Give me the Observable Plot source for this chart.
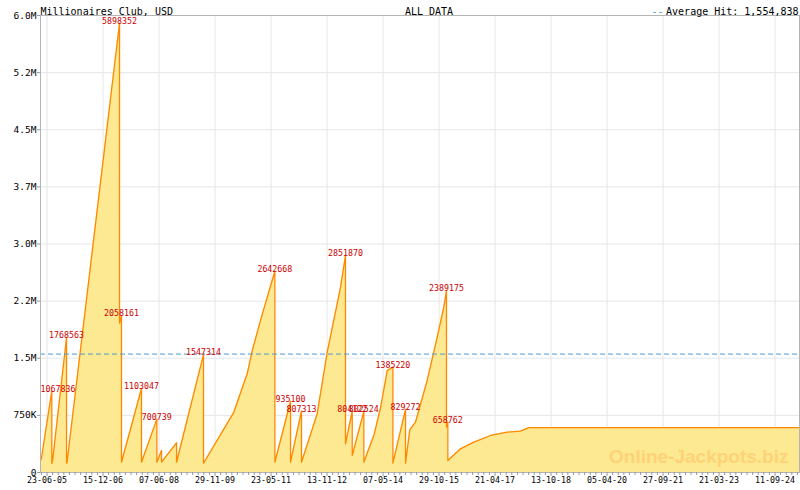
<!DOCTYPE html>
<html><head><meta charset="utf-8">
<script src="https://cdn.jsdelivr.net/npm/d3@7"></script>
<script src="https://cdn.jsdelivr.net/npm/@observablehq/plot@0.6"></script>
<style>body{margin:0;background:#fff;}</style>
</head><body><div id="chart"></div>
<script>
const title = "Millionaires Club, USD";
const subtitle = "ALL DATA";
const averageHit = 1554838;
const averageLabel = "Average Hit: 1,554,838";
const watermark = "Online-Jackpots.biz";

const xDomain = ["2005-04-21", "2025-05-05"];

const seriesDates = [
"2005-04-28","2005-08-08","2005-08-08","2005-08-15","2005-12-28","2005-12-28",
"2006-01-02","2007-05-23","2007-05-23","2007-06-11","2007-06-11",
"2007-12-21","2007-12-21","2008-05-17","2008-05-17","2008-07-01","2008-07-01",
"2008-11-23","2008-11-23","2009-08-10","2009-08-10",
"2010-05-29","2010-10-06","2010-11-23","2011-02-11","2011-06-29","2011-06-29",
"2011-11-27","2011-11-27","2012-03-12","2012-03-12",
"2012-08-10","2012-11-15","2013-03-23","2013-05-10","2013-05-10",
"2013-07-14","2013-07-14","2013-11-03","2013-11-03",
"2014-02-10","2014-04-13","2014-06-17","2014-07-15","2014-08-10","2014-08-10",
"2014-12-10","2014-12-10",
"2015-01-20","2015-03-16","2015-07-07","2015-10-12","2015-12-14","2016-01-09","2016-01-09",
"2016-01-22","2016-01-22",
"2016-05-23","2016-09-29","2017-03-09","2017-08-17","2017-12-23","2018-03-13","2025-05-05"
];
const seriesValues = [
171000,1067836,118000,150000,1768563,122000,
135000,5898352,1960000,2058161,135000,
1103047,135000,700739,135000,290000,135000,
390000,135000,1547314,122000,
790000,1300000,1600000,2000000,2642668,135000,
935100,135000,807313,135000,
770000,1580000,2430000,2851870,376000,
804122,223000,802524,135000,
500000,850000,1340000,1360000,1385220,122000,
829272,122000,
560000,660000,1210000,1780000,2170000,2389175,595000,
658762,157000,
311000,398000,486000,530000,543000,590000,590000
];

const hitDates = ["2005-08-08","2005-12-28","2007-05-23","2007-06-11","2007-12-21","2008-05-17",
"2009-08-10","2011-06-29","2011-11-27","2012-03-12","2013-05-10","2013-07-14","2013-11-03",
"2014-08-10","2014-12-10","2016-01-09","2016-01-22"];
const hitValues = [1067836,1768563,5898352,2058161,1103047,700739,
1547314,2642668,935100,807313,2851870,804122,802524,
1385220,829272,2389175,658762];

const xTickLabels = ["23-06-05","15-12-06","07-06-08","29-11-09","23-05-11","13-11-12","07-05-14",
"29-10-15","21-04-17","13-10-18","05-04-20","27-09-21","21-03-23","11-09-24"];
const yTickValues = [0,750000,1500000,2250000,3000000,3750000,4500000,5250000,6000000];
const yTickLabels = ["0","750K","1.5M","2.2M","3.0M","3.7M","4.5M","5.2M","6.0M"];

const parse = d3.utcParse("%Y-%m-%d");
const parseTick = d3.utcParse("%d-%m-%y");
const x0 = parse(xDomain[0]), x1 = parse(xDomain[1]);
const series = seriesDates.map((d, i) => ({date: parse(d), value: seriesValues[i]}));
const hits = hitDates.map((d, i) => ({date: parse(d), value: hitValues[i], label: String(hitValues[i])}));
const xTicks = xTickLabels.map(parseTick);
const minorTicks = [];
for (let k = -1; k < xTicks.length; k++) {
  for (let j = 1; j < 10; j++) {
    const t = d3.utcDay.offset(xTicks[0], k * 540 + j * 54);
    if (t >= x0 && t <= x1) minorTicks.push(t);
  }
}
const W = 800, H = 490, mL = 40, mR = 1, mT = 15, mB = 18;
const labelSize = 8.3;
const msPerPx = (x1 - x0) / (W - mL - mR);
const nearLeft = h => (h.date - x0) / msPerPx < h.label.length * labelSize * 0.602 / 2;
const hitsLeft = hits.filter(nearLeft).map(h => ({...h, date: x0}));
const hitsMid = hits.filter(h => !nearLeft(h));

const blue = "#4a9bd0";
const chart = Plot.plot({
  width: W, height: H,
  marginLeft: mL, marginRight: mR, marginTop: mT, marginBottom: mB,
  style: {fontFamily: "'DejaVu Sans Mono', monospace", background: "#fff", color: "#000"},
  x: {type: "utc", domain: [x0, x1]},
  y: {domain: [0, 6000000]},
  marks: [
    Plot.gridY(yTickValues, {stroke: "#e6e6e6", strokeOpacity: 1}),
    Plot.gridX(xTicks, {stroke: "#e6e6e6", strokeOpacity: 1}),
    Plot.areaY(series, {x: "date", y1: 0, y2: "value", fill: "#fde992", curve: "linear"}),
    Plot.text([watermark], {text: d => d, frameAnchor: "bottom-right", textAnchor: "end", lineAnchor: "bottom",
      dx: -11, dy: -10, fontSize: 19, fontWeight: "bold", fontFamily: "'Liberation Sans', Arial, sans-serif", fill: "#ffd277"}),
    Plot.lineY(series, {x: "date", y: "value", stroke: "#ff8800", strokeWidth: 1.3, curve: "linear"}),
    Plot.ruleY([averageHit], {stroke: blue, strokeDasharray: "5,3"}),
    Plot.frame({stroke: "#b4b4b4"}),
    Plot.axisY(yTickValues, {tickSize: 3, tickPadding: 1, fontSize: 9.5, stroke: "#999", label: null,
      tickFormat: d => yTickLabels[yTickValues.indexOf(d)]}),
    Plot.axisX(minorTicks, {tickSize: 3, stroke: "#999", label: null, tickFormat: () => ""}),
    Plot.axisX(xTicks, {tickSize: 4, tickPadding: 1, fontSize: labelSize, stroke: "#999", label: null,
      tickFormat: d => xTickLabels[xTicks.findIndex(t => +t === +d)]}),
    Plot.text(hitsMid, {x: "date", y: "value", text: "label", fill: "#cc0000", fontSize: labelSize, dy: -2, textAnchor: "middle"}),
    Plot.text(hitsLeft, {x: "date", y: "value", text: "label", fill: "#cc0000", fontSize: labelSize, dy: -2, textAnchor: "start"}),
    Plot.text([title], {text: d => d, frameAnchor: "top-left", textAnchor: "start", dy: -8, fontSize: 10}),
    Plot.text([subtitle], {text: d => d, frameAnchor: "top", dx: 9, dy: -8, fontSize: 10}),
    Plot.text([averageLabel], {text: d => d, frameAnchor: "top-right", textAnchor: "end", dx: -1, dy: -8, fontSize: 10}),
    Plot.text(["--"], {text: d => d, frameAnchor: "top-right", textAnchor: "end", dx: -136, dy: -8, fontSize: 10, fill: blue})
  ]
});
document.getElementById("chart").appendChild(chart);
</script>
</body></html>
